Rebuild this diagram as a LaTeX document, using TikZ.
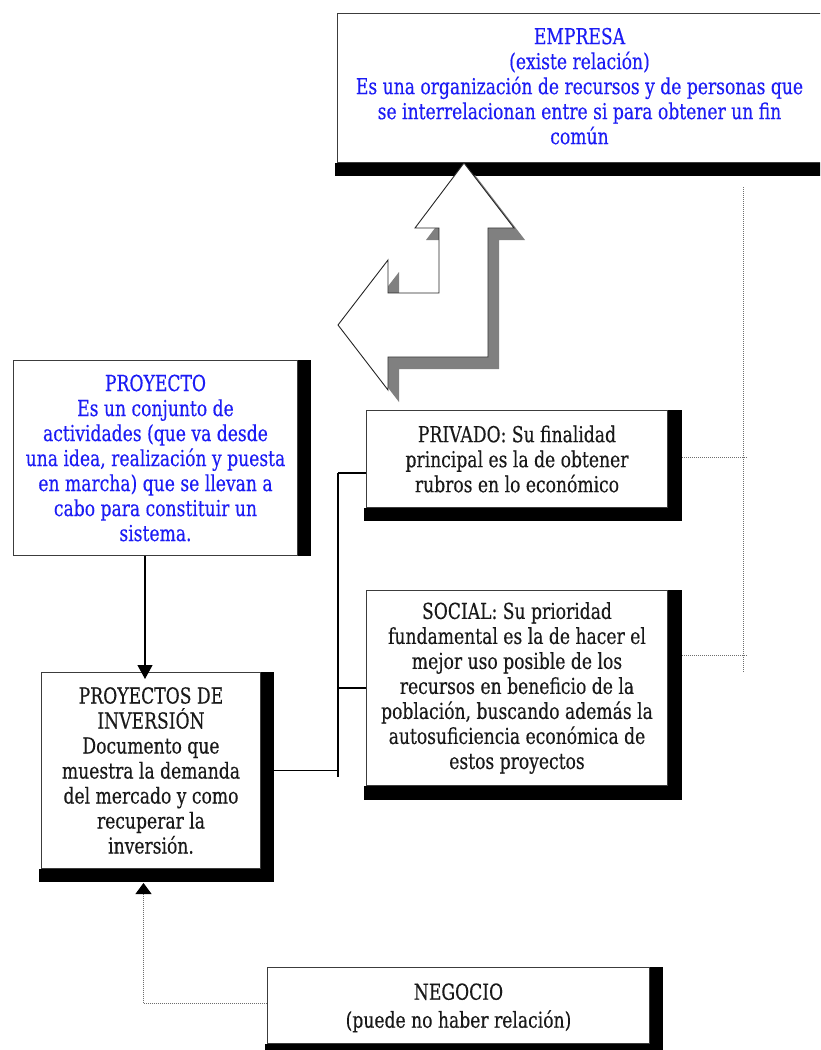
\documentclass[tikz,border=0pt]{standalone}
\usepackage{fontspec}
\setmainfont{DejaVu Serif}[FakeStretch=0.78,FakeBold=0.3]
\usetikzlibrary{arrows.meta,calc}
\definecolor{txtblue}{RGB}{28,28,245}
\definecolor{txtblack}{RGB}{25,25,25}
\definecolor{boxline}{RGB}{60,60,60}
\definecolor{dotgray}{RGB}{110,110,110}
\definecolor{shadegray}{RGB}{128,128,128}
\tikzset{
  boxbase/.style={rectangle, draw=boxline, line width=1pt, fill=white, inner sep=0pt,
    align=center, anchor=north west, font=\fontsize{22}{25}\selectfont},
  bluebox/.style={boxbase, text=txtblue},
  blackbox/.style={boxbase, text=txtblack},
  shadowbar/.style={fill=black},
  conn/.style={draw=black, line width=1.1pt},
  dotconn/.style={draw=dotgray, line width=1pt, dash pattern=on 1pt off 1pt},
  bigarrow/.style={fill=white, draw=black!85, line width=0.9pt, line join=miter},
  arrowshade/.style={fill=shadegray},
}
\begin{document}
\begin{tikzpicture}[x=1pt,y=-1pt]
\path[use as bounding box, clip] (0,0) rectangle (820,1050);
\fill[white] (0,0) rectangle (820,1050);

% EMPRESA
\node[bluebox, minimum width=484pt, minimum height=149pt] (emp) at (337,13)
  {EMPRESA\\(existe relación)\\Es una organización de recursos y de personas que\\se interrelacionan entre si para obtener un fin\\común\rule[-4pt]{0pt}{0pt}};
\fill[shadowbar] ([shift={(-2,0)}]emp.south west) rectangle ([shift={(13,13)}]emp.south east);

% big bent arrow (shadow then arrow)
\path[arrowshade, shift={(11,12)}]
  (464,163) -- (514,228) -- (488,228) -- (488,357) -- (388,357) -- (388,390)
  -- (338,325) -- (388,260) -- (388,293) -- (439,293) -- (439,228) -- (415,228) -- cycle;
\path[bigarrow]
  (464,163) -- (514,228) -- (488,228) -- (488,357) -- (388,357) -- (388,390)
  -- (338,325) -- (388,260) -- (388,293) -- (439,293) -- (439,228) -- (415,228) -- cycle;

% PROYECTO
\node[bluebox, minimum width=284pt, minimum height=195pt] (proy) at (13,360)
  {PROYECTO\\Es un conjunto de\\actividades (que va desde\\una idea, realización y puesta\\en marcha) que se llevan a\\cabo para constituir un\\sistema.};
\fill[shadowbar] (proy.north east) rectangle ([shift={(13,0)}]proy.south east);

% PROYECTOS DE INVERSION
\node[blackbox, minimum width=219pt, minimum height=196pt] (inv) at (41,672)
  {PROYECTOS DE\\INVERSIÓN\\Documento que\\muestra la demanda\\del mercado y como\\recuperar la\\inversión.};
\fill[shadowbar] (inv.north east) rectangle ([shift={(13,13)}]inv.south east);
\fill[shadowbar] ([shift={(-2,0)}]inv.south west) rectangle ([shift={(13,13)}]inv.south east);

% PRIVADO
\node[blackbox, minimum width=301pt, minimum height=97pt] (priv) at (366,410)
  {PRIVADO: Su finalidad\\principal es la de obtener\\rubros en lo económico};
\fill[shadowbar] (priv.north east) rectangle ([shift={(14,13)}]priv.south east);
\fill[shadowbar] ([shift={(-2,0)}]priv.south west) rectangle ([shift={(14,13)}]priv.south east);

% SOCIAL
\node[blackbox, minimum width=301pt, minimum height=195pt] (soc) at (366,590)
  {SOCIAL: Su prioridad\\fundamental es la de hacer el\\mejor uso posible de los\\recursos en beneficio de la\\población, buscando además la\\autosuficiencia económica de\\estos proyectos\rule[-3pt]{0pt}{0pt}};
\fill[shadowbar] (soc.north east) rectangle ([shift={(14,14)}]soc.south east);
\fill[shadowbar] ([shift={(-2,0)}]soc.south west) rectangle ([shift={(14,14)}]soc.south east);

% NEGOCIO
\node[blackbox, minimum width=382pt, minimum height=76pt,
      font=\fontsize{22}{28}\selectfont] (neg) at (267,967)
  {\rule{0pt}{21pt}NEGOCIO\\(puede no haber relación)};
\fill[shadowbar] (neg.north east) rectangle ([shift={(13,13)}]neg.south east);
\fill[shadowbar] ([shift={(-2,0)}]neg.south west) rectangle ([shift={(13,13)}]neg.south east);

% connectors
\coordinate (ax) at (145,0);
\draw[conn, -{Triangle[width=15pt,length=14pt]}] (proy.south -| ax) -- ([shift={(0,7)}]inv.north -| ax);

\coordinate (trunkTop) at (338,473);
\coordinate (trunkBot) at (338,777);
\draw[conn] (trunkTop) -- (trunkBot);
\draw[conn] (trunkTop) -- (trunkTop -| priv.west);
\draw[conn] (soc.west) -- (soc.west -| trunkTop);
\draw[conn] ([shift={(13,0)}]inv.east) -- (inv.east -| trunkTop);

% right dotted bracket
\coordinate (rtTop) at (743,187);
\coordinate (rtBot) at (743,673);
\coordinate (rtEnd) at (747,0);
\coordinate (privR) at ([shift={(14,-1.5)}]priv.east);
\coordinate (socR) at ([shift={(14,-32.5)}]soc.east);
\draw[dotconn] (rtTop) -- (rtBot);
\draw[dotconn] (privR) -- (privR -| rtEnd);
\draw[dotconn] (socR) -- (socR -| rtEnd);

% NEGOCIO dotted arrow
\coordinate (negL) at ([shift={(0,-2)}]neg.west);
\coordinate (invTip) at ([shift={(-7.5,14)}]inv.south);
\draw[dotconn, -{Triangle[width=16pt,length=11pt,color=black,fill=black]}]
  (negL) -| (invTip);
\end{tikzpicture}
\end{document}
